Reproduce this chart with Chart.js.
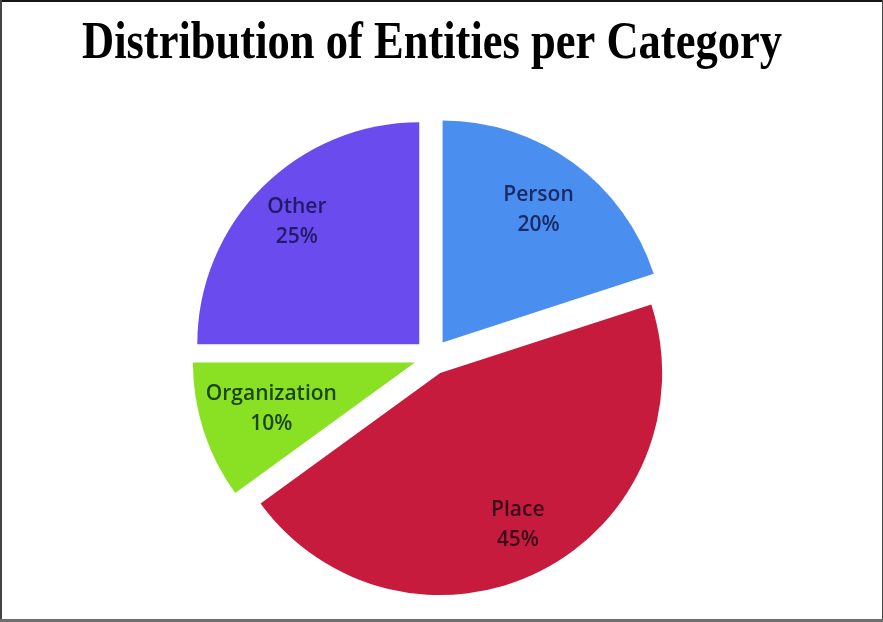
<!DOCTYPE html>
<html>
<head>
<meta charset="utf-8">
<title>Entities per category</title>
<script src="https://cdn.jsdelivr.net/npm/chart.js@4.4.1/dist/chart.umd.min.js"></script>
<style>
  html, body { margin: 0; padding: 0; background: #fff; }
  #wrap { position: relative; width: 883px; height: 622px; }
</style>
</head>
<body>
<div id="wrap"><canvas id="entities-chart" width="883" height="622"></canvas></div>
<script>
const chartTitle = 'Distribution of Entities per Category';
const categories = ['Person', 'Place', 'Organization', 'Other'];
const shares = [20, 45, 10, 25];
const sliceColors = ['#4a8ff0', '#c61b3d', '#8ae022', '#6a4bee'];
const labelColors = ['#1a2a66', '#380a1a', '#1c4510', '#221a6a'];

// how far each slice is pulled out of the pie, in px
const explode = 18;
// where the label sits, as a share of the radius
const labelDepth = [0.735, 0.77, 0.68, 0.78];

// bold serif title, squeezed a little sideways
const titlePlugin = {
  id: 'squeezedTitle',
  afterDraw(chart) {
    const ctx = chart.ctx;
    ctx.save();
    ctx.font = 'bold 53px "Liberation Serif", "Times New Roman", serif';
    ctx.fillStyle = '#000';
    ctx.textAlign = 'center';
    ctx.textBaseline = 'alphabetic';
    const w = ctx.measureText(chartTitle).width;
    ctx.translate(432, 58);
    ctx.scale(700 / w, 1);
    ctx.fillText(chartTitle, 0, 0);
    ctx.restore();
  }
};

// draw the arcs ourselves so each one is shifted without the
// radius growth that the built-in offset adds to wide slices
const explodeSlices = {
  id: 'explodeSlices',
  beforeDatasetDraw(chart, args) {
    const ctx = chart.ctx;
    args.meta.data.forEach((arc) => {
      const mid = (arc.startAngle + arc.endAngle) / 2;
      ctx.save();
      ctx.translate(Math.cos(mid) * explode, Math.sin(mid) * explode);
      arc.draw(ctx, chart.chartArea);
      ctx.restore();
    });
    return false;
  }
};

// name + percentage inside each slice
const sliceLabels = {
  id: 'sliceLabels',
  afterDatasetsDraw(chart) {
    const ctx = chart.ctx;
    const arcs = chart.getDatasetMeta(0).data;
    ctx.save();
    ctx.font = '600 21px "Open Sans", sans-serif';
    ctx.textAlign = 'center';
    ctx.textBaseline = 'middle';
    arcs.forEach((arc, i) => {
      const mid = (arc.startAngle + arc.endAngle) / 2;
      const dist = explode + arc.outerRadius * labelDepth[i];
      const x = arc.x + Math.cos(mid) * dist;
      const y = arc.y + Math.sin(mid) * dist;
      ctx.fillStyle = labelColors[i];
      ctx.fillText(categories[i], x, y - 15);
      ctx.fillText(shares[i] + '%', x, y + 15);
    });
    ctx.restore();
  }
};

// thin frame round the whole picture
const frame = {
  id: 'frame',
  afterDraw(chart) {
    const ctx = chart.ctx;
    const w = chart.width, h = chart.height;
    ctx.save();
    ctx.fillStyle = '#151515';
    ctx.fillRect(0, 0, w, 2);
    ctx.fillStyle = '#444';
    ctx.fillRect(0, 0, 2, h);
    ctx.fillRect(w - 1, 0, 1, h);
    ctx.fillStyle = '#6e6e6e';
    ctx.fillRect(0, h - 3, w, 3);
    ctx.restore();
  }
};

new Chart(document.getElementById('entities-chart').getContext('2d'), {
  type: 'pie',
  data: {
    labels: categories,
    datasets: [{
      data: shares,
      backgroundColor: sliceColors,
      borderWidth: 0,
      radius: 222
    }]
  },
  options: {
    responsive: false,
    animation: false,
    events: [],
    layout: {
      padding: { top: 92, right: 19, bottom: 0, left: 0 }
    },
    plugins: {
      legend: { display: false },
      tooltip: { enabled: false },
      title: { display: false }
    }
  },
  plugins: [titlePlugin, explodeSlices, sliceLabels, frame]
});
</script>
</body>
</html>
